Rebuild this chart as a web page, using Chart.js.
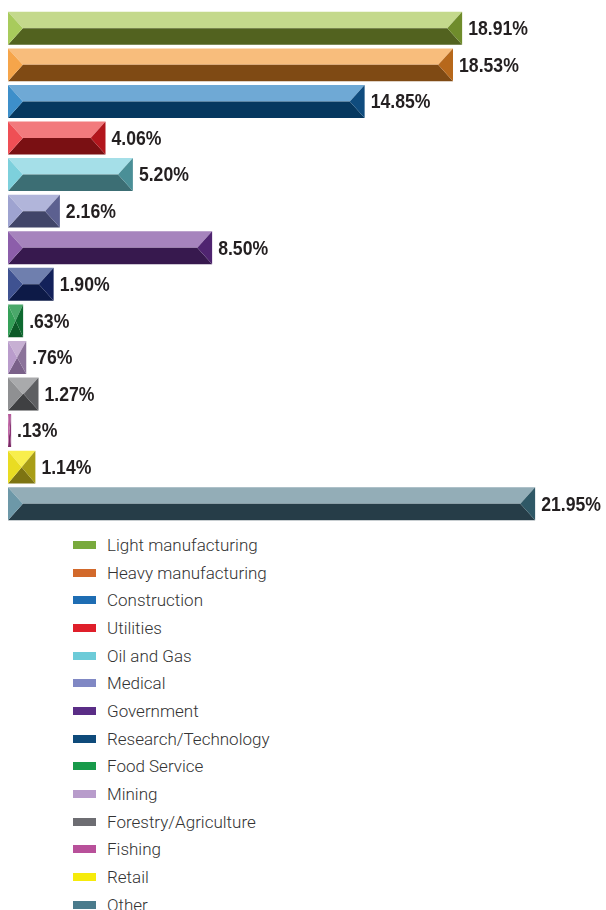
<!DOCTYPE html>
<html>
<head>
<meta charset="utf-8">
<script src="https://cdn.jsdelivr.net/npm/chart.js@4.4.1/dist/chart.umd.min.js"></script>
<style>
  body { margin: 0; background: #fff; }
  #chartBox { position: relative; width: 606px; height: 528px; }
  #legend { position: absolute; left: 73px; top: 531px; margin: 0; padding: 0; list-style: none;
            font-family: Roboto, "Open Sans", sans-serif; font-weight: 300; font-size: 17px; color: #333; }
  #legend li { height: 27.7px; display: flex; align-items: center; }
  #legend .swatch { width: 23px; height: 8px; margin-right: 11px; }
</style>
</head>
<body>
<div id="chartBox"><canvas id="sectorChart"></canvas></div>
<ul id="legend"></ul>
<script>
const categories = [
  'Light manufacturing', 'Heavy manufacturing', 'Construction', 'Utilities', 'Oil and Gas',
  'Medical', 'Government', 'Research/Technology', 'Food Service', 'Mining',
  'Forestry/Agriculture', 'Fishing', 'Retail', 'Other'
];
const shares = [18.91, 18.53, 14.85, 4.06, 5.20, 2.16, 8.50, 1.90, 0.63, 0.76, 1.27, 0.13, 1.14, 21.95];

// legend swatch colours
const legendColors = [
  '#79aa3d', '#d2692b', '#1e6db3', '#df1f2a', '#6ccbd8', '#8088c4', '#5a2d86',
  '#0e4a7a', '#189a4a', '#b89ccb', '#6d6d72', '#b8509a', '#f6eb0b', '#4a7b8c'
];

// bevelled bar faces: top, bottom, left end, right end
const topFace = ['#c4d98c', '#f8bd7c', '#6fa9d5', '#f27a7d', '#a5dfe8', '#b1b5da', '#a684bd',
                 '#6f7fae', '#4aa86a', '#c7b0d3', '#a9aaac', '#b65b9c', '#f8ee4c', '#93adb7'];
const bottomFace = ['#52621f', '#7f4a14', '#06385f', '#7a1013', '#3c6e74', '#414569', '#37194e',
                    '#0d1a47', '#0c5a27', '#7a6189', '#3f4042', '#7a2a66', '#7d7412', '#263d48'];
const leftFace = ['#a8cb5c', '#f6a54a', '#3d8fca', '#ef4f55', '#7dd0dc', '#9ea3d0', '#8c5eaa',
                  '#3f5291', '#35a058', '#b99ccb', '#8f9092', '#c26aa8', '#e9dc22', '#6d98a8'];
const rightFace = ['#6f8c2b', '#b7681b', '#0f4c7e', '#b2161d', '#4a8f97', '#5c6090', '#4f2470',
                   '#13215a', '#0e6a30', '#8b739a', '#5e5f62', '#8a3576', '#a89d16', '#2f5866'];

function pctLabel(v) {
  return v.toFixed(2).replace(/^0/, '') + '%';
}

function poly(ctx, pts, color) {
  ctx.beginPath();
  ctx.moveTo(pts[0][0], pts[0][1]);
  for (let i = 1; i < pts.length; i++) ctx.lineTo(pts[i][0], pts[i][1]);
  ctx.closePath();
  ctx.fillStyle = color;
  ctx.fill();
}

// paints each bar as a bevelled slab and writes its value after it
const bevelBars = {
  id: 'bevelBars',
  afterDatasetsDraw(chart) {
    const ctx = chart.ctx;
    const meta = chart.getDatasetMeta(0);
    meta.data.forEach((bar, i) => {
      const x0 = bar.base, x1 = bar.x;
      const top = bar.y - bar.height / 2, bot = bar.y + bar.height / 2, mid = bar.y;
      const d = Math.min(bar.height * 0.45, (x1 - x0) / 2);
      ctx.save();
      poly(ctx, [[x0, top], [x1, top], [x1 - d, mid], [x0 + d, mid]], topFace[i]);
      poly(ctx, [[x0 + d, mid], [x1 - d, mid], [x1, bot], [x0, bot]], bottomFace[i]);
      poly(ctx, [[x0, top], [x0 + d, mid], [x0, bot]], leftFace[i]);
      poly(ctx, [[x1, top], [x1 - d, mid], [x1, bot]], rightFace[i]);

      // squeeze the bold label horizontally for a condensed look
      ctx.translate(x1 + 6, mid + 1);
      ctx.scale(0.84, 1);
      ctx.fillStyle = '#231f20';
      ctx.font = 'bold 21px "Liberation Sans", Arial, sans-serif';
      ctx.textBaseline = 'middle';
      ctx.textAlign = 'left';
      ctx.fillText(pctLabel(shares[i]), 0, 0);
      ctx.restore();
    });
  }
};

new Chart(document.getElementById('sectorChart'), {
  type: 'bar',
  data: {
    labels: categories,
    datasets: [{
      data: shares,
      backgroundColor: 'rgba(0,0,0,0)',
      borderWidth: 0,
      barPercentage: 0.9,
      categoryPercentage: 1
    }]
  },
  options: {
    indexAxis: 'y',
    responsive: true,
    maintainAspectRatio: false,
    animation: false,
    layout: { padding: { left: 8, right: 0, top: 10, bottom: 6 } },
    plugins: { legend: { display: false }, tooltip: { enabled: false } },
    scales: {
      x: { display: false, min: 0, max: 24.9 },
      y: { display: false }
    }
  },
  plugins: [bevelBars]
});

const legendEl = document.getElementById('legend');
legendEl.innerHTML = categories.map((c, i) =>
  `<li><span class="swatch" style="background:${legendColors[i]}"></span>${c}</li>`
).join('');
</script>
</body>
</html>
